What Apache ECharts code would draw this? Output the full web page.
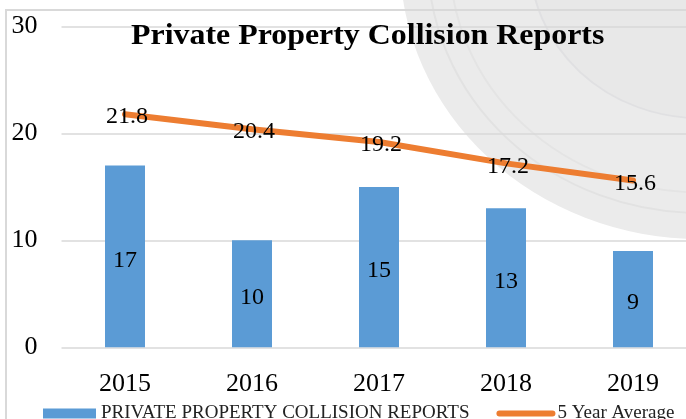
<!DOCTYPE html>
<html>
<head>
<meta charset="utf-8">
<script src="https://cdn.jsdelivr.net/npm/echarts@6/dist/echarts.min.js"></script>
<style>
  html, body { margin: 0; padding: 0; background: #fff; }
  #chart { width: 686px; height: 419px; }
</style>
</head>
<body>
<div id="chart"></div>
<script>
// data
var years = ['2015', '2016', '2017', '2018', '2019'];
var reports = [17, 10, 15, 13, 9];
var fiveYearAvg = [21.8, 20.4, 19.2, 17.2, 15.6];
var yTicks = [0, 10, 20, 30];

var serif = '"Liberation Serif", "Times New Roman", serif';

var myChart = echarts.init(document.getElementById('chart'));
myChart.setOption({
    backgroundColor: '#fff',
    animation: false,
    graphic: [
        // faded badge watermark behind the plot
        {
            type: 'circle', z: -10, x: 700, y: -40, scaleY: 0.93,
            shape: { r: 300 },
            style: { fill: '#ebebeb' }
        },
        {
            type: 'circle', z: -9, x: 700, y: -40, scaleY: 0.93,
            shape: { r: 272 },
            style: { fill: 'none', stroke: '#e2e2e2', lineWidth: 2 }
        },
        {
            type: 'circle', z: -9, x: 700, y: -40, scaleY: 0.93,
            shape: { r: 250 },
            style: { fill: 'none', stroke: '#e4e4e4', lineWidth: 2 }
        },
        {
            type: 'circle', z: -9, x: 700, y: -40, scaleY: 0.93,
            shape: { r: 170 },
            style: { fill: '#e8e8e8', stroke: '#e0e0e2', lineWidth: 2 }
        },
        // outer border of the chart area (cropped)
        {
            type: 'rect', z: 5, shape: { x: 6, y: 10, width: 800, height: 500 },
            style: { fill: 'none', stroke: '#d9d9d9', lineWidth: 2 }
        },
        // title, drawn a bit wider than the font
        {
            type: 'text', z: 20, x: 131, y: 37, scaleX: 1.1,
            style: {
                text: 'Private Property Collision Reports',
                font: 'bold 29px ' + serif,
                fill: '#000',
                textAlign: 'left',
                textVerticalAlign: 'middle'
            }
        }
    ],
    grid: {
        left: 61.5,
        width: 635,
        top: 26.5,
        bottom: 71.7,
        outerBoundsMode: 'none'
    },
    legend: {
        left: 38,
        top: 399,
        itemWidth: 53,
        itemHeight: 10,
        itemGap: 27,
        textStyle: { fontFamily: serif, fontSize: 19, color: '#222' },
        data: [
            { name: 'PRIVATE PROPERTY COLLISION REPORTS', icon: 'rect' },
            {
                name: '5 Year Average',
                itemStyle: { opacity: 0 },
                lineStyle: { width: 6, cap: 'round', color: '#ED7D31' }
            }
        ]
    },
    xAxis: {
        type: 'category',
        data: years,
        axisLine: { show: false },
        axisTick: { show: false },
        axisLabel: { fontFamily: serif, fontSize: 26, color: '#000', margin: 24 }
    },
    yAxis: {
        type: 'value',
        min: yTicks[0],
        max: yTicks[yTicks.length - 1],
        interval: 10,
        axisLine: { show: false },
        axisTick: { show: false },
        splitLine: { lineStyle: { color: '#d9d9d9', width: 1.5 } },
        axisLabel: { fontFamily: serif, fontSize: 26, color: '#000', margin: 24 }
    },
    series: [
        {
            name: 'PRIVATE PROPERTY COLLISION REPORTS',
            type: 'bar',
            data: reports,
            barWidth: 40,
            itemStyle: { color: '#5B9BD5' },
            label: {
                show: true,
                position: 'inside',
                offset: [0, 4],
                fontFamily: serif,
                fontSize: 24,
                color: '#000'
            },
            z: 2
        },
        {
            name: '5 Year Average',
            type: 'line',
            data: fiveYearAvg,
            symbol: 'circle',
            symbolSize: 2,
            itemStyle: { color: '#ED7D31' },
            lineStyle: { color: '#ED7D31', width: 6, cap: 'round' },
            label: {
                show: true,
                position: 'inside',
                offset: [2, 3],
                fontFamily: serif,
                fontSize: 24,
                color: '#000'
            },
            z: 3
        }
    ]
});
window.onresize = myChart.resize;
</script>
</body>
</html>
